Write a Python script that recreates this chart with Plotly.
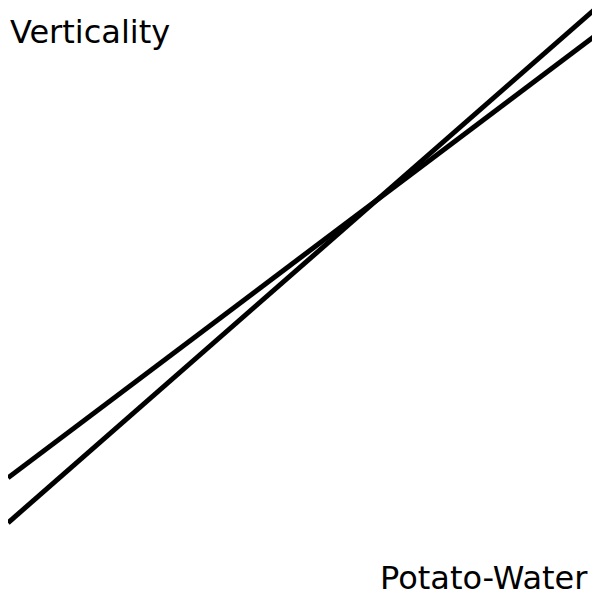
import plotly.graph_objects as go

x_vals = [0, 1]
line_a = [0.217, 0.97]
line_b = [0.142, 1.017]
x_label = "Potato-Water"
y_label = "Verticality"

fig = go.Figure()
for ys in (line_a, line_b):
    fig.add_trace(go.Scatter(x=x_vals, y=ys, mode="lines",
                             line=dict(color="black", width=5), showlegend=False))
fig.update_layout(
    width=600, height=600, margin=dict(l=0, r=0, t=0, b=0),
    plot_bgcolor="white", paper_bgcolor="white",
    xaxis=dict(range=[0, 1], visible=False),
    yaxis=dict(range=[0, 1], visible=False),
    annotations=[
        dict(text=y_label, x=0.0, y=0.995, xref="paper", yref="paper",
             xanchor="left", yanchor="top", showarrow=False,
             font=dict(family="DejaVu Sans", size=32, color="black")),
        dict(text=x_label, x=0.97, y=0.015, xref="paper", yref="paper",
             xanchor="right", yanchor="bottom", showarrow=False,
             font=dict(family="DejaVu Sans", size=32, color="black")),
    ],
)
fig.write_html("out.html")
